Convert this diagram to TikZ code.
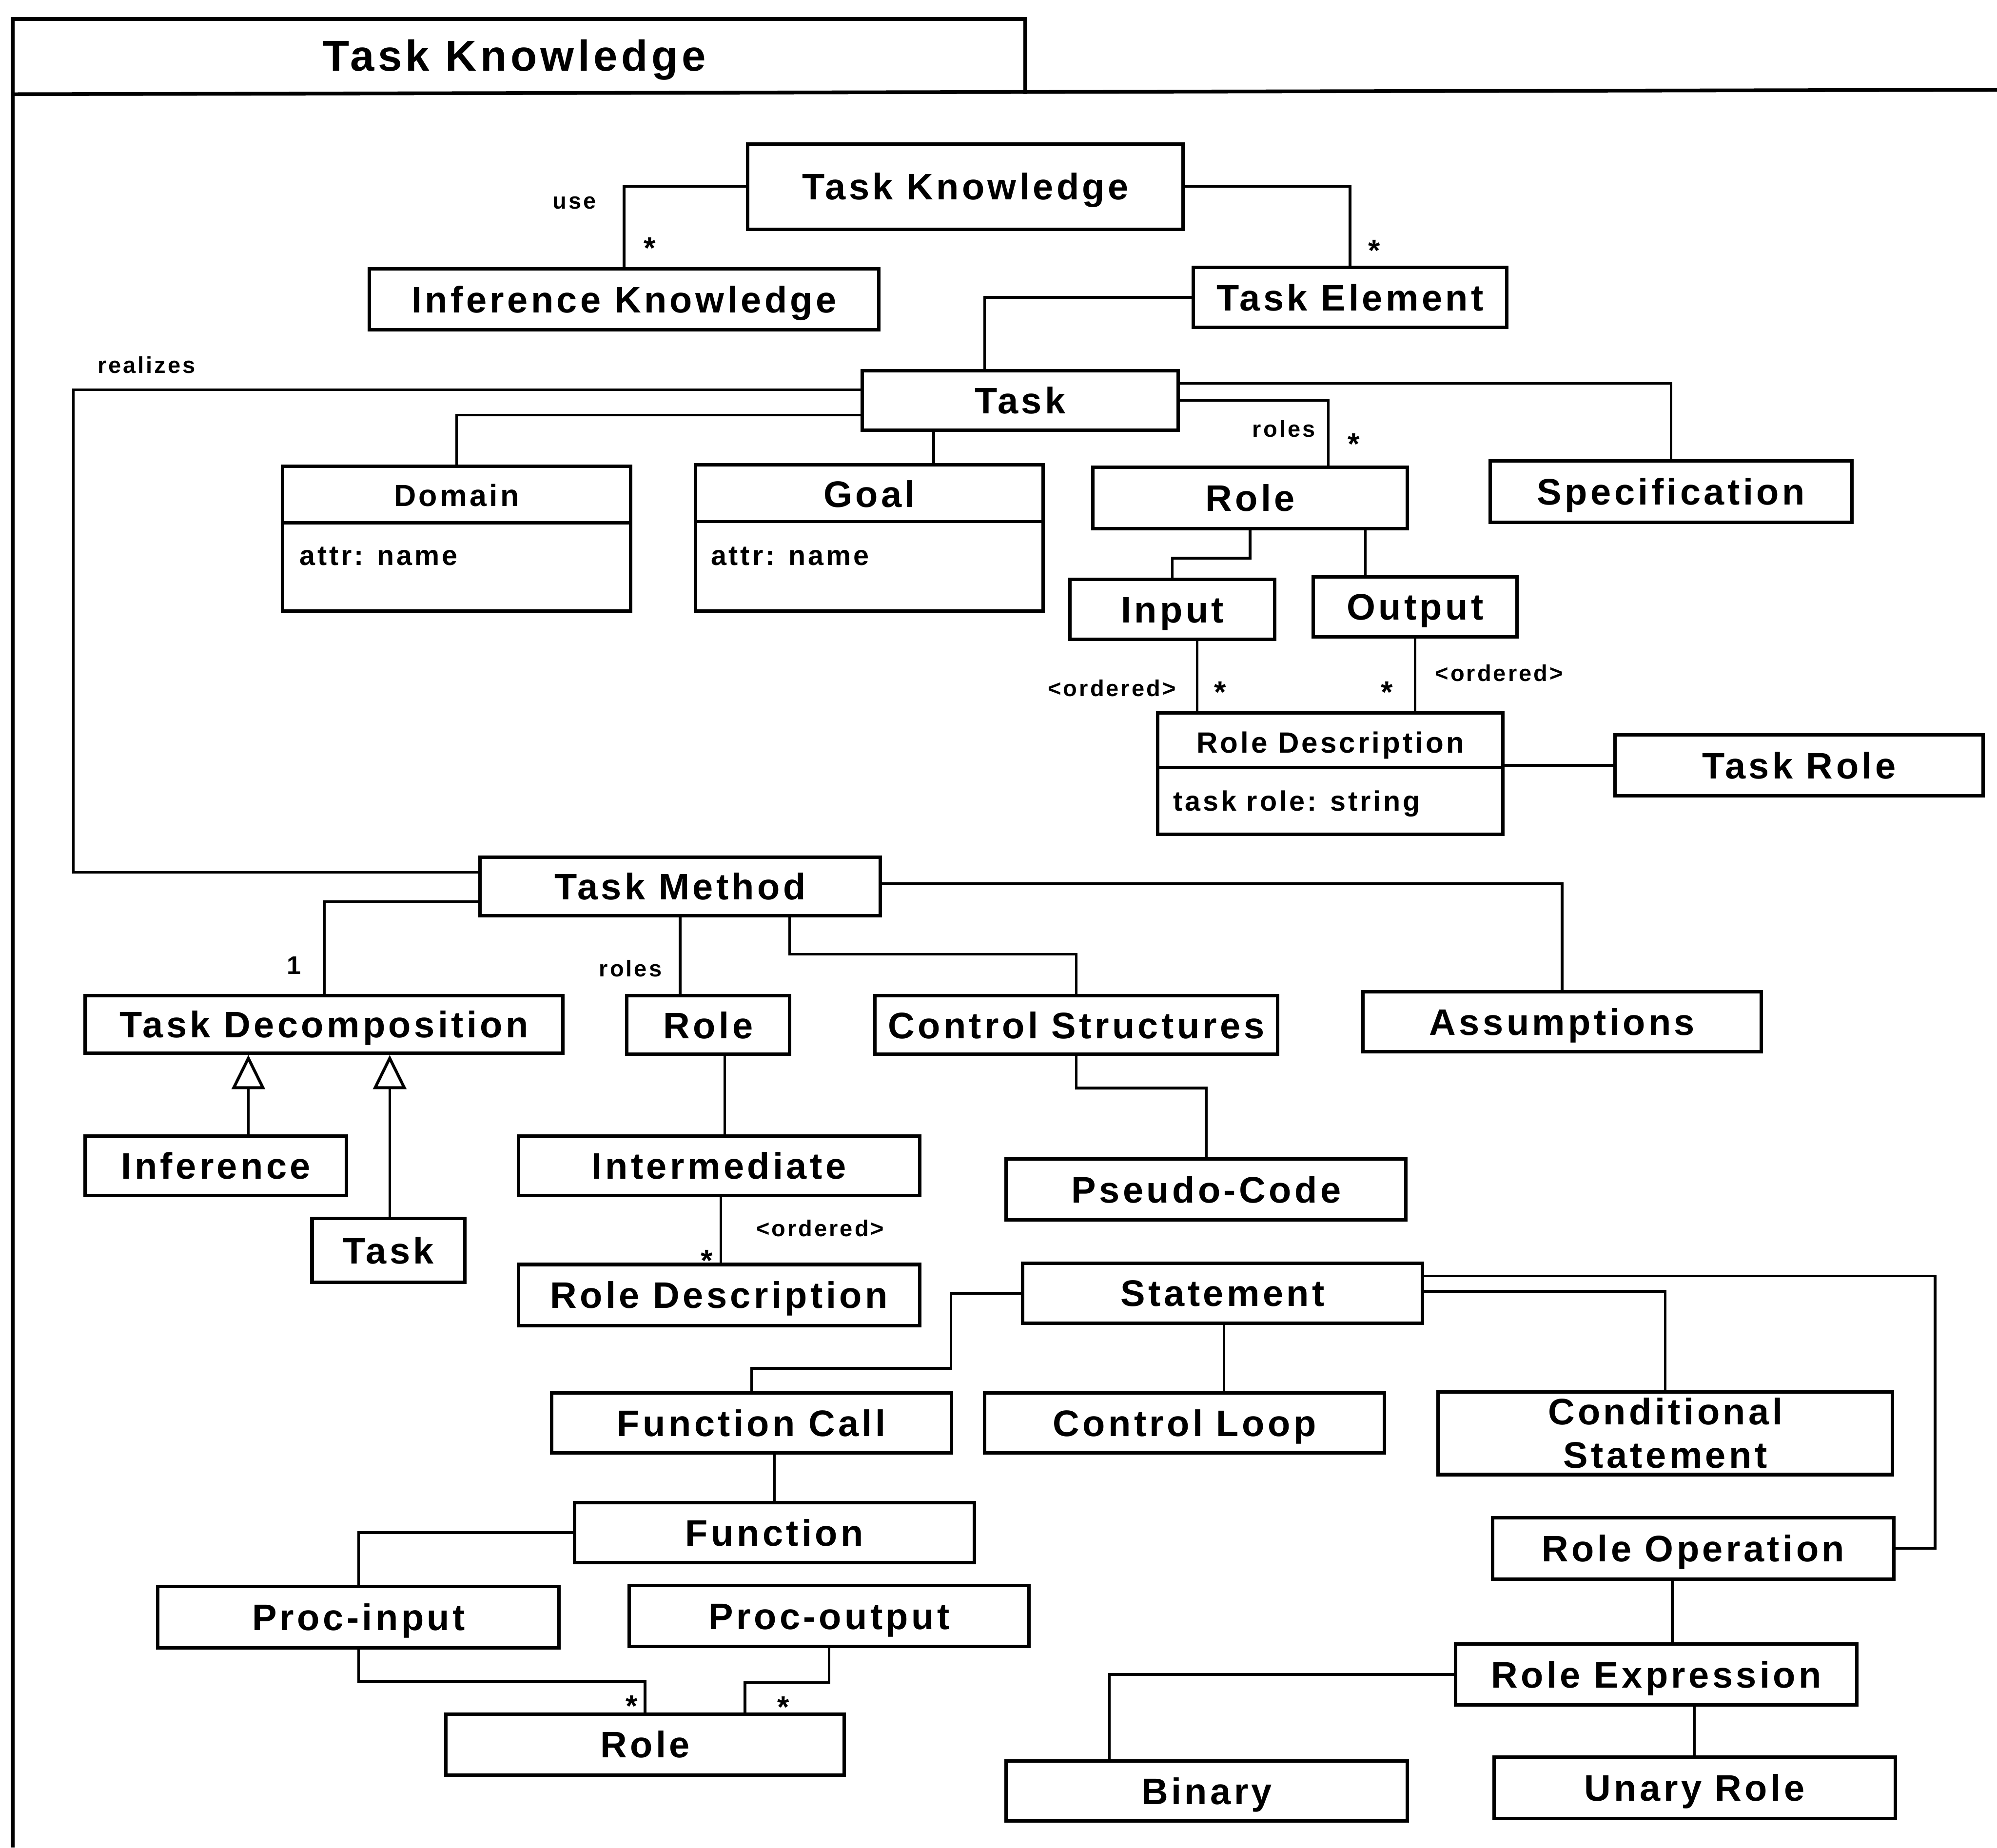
\documentclass[tikz,border=0pt]{standalone}
\usepackage{fontspec}
\setmainfont{Liberation Sans}
\newfontfamily\umlfont{Liberation Sans}[LetterSpace=8.5]
\newcommand\umlsize[1]{\umlfont\bfseries\fontsize{#1}{#1}\selectfont}
\usetikzlibrary{arrows.meta}

\begin{document}
\begin{tikzpicture}[x=1pt,y=-1pt,
  frame/.style={line width=2.9pt},
  box/.style={draw, line width=2.7pt, inner sep=0pt, font=\umlsize{29},
    text height=20.8pt, text depth=0pt},
  boxml/.style={draw, line width=2.7pt, inner sep=0pt, align=center,
    font=\umlfont\bfseries\fontsize{29}{34}\selectfont},
  cname/.style={inner sep=0pt, font=\umlsize{#1}, text height=0.716*#1pt, text depth=0pt},
  attr/.style={inner sep=0pt, anchor=west, font=\umlsize{22}, text height=15.8pt, text depth=0pt},
  divider/.style={line width=2.5pt},
  conn/.style={line width=2.1pt},
  gen/.style={conn, -{Triangle[open, length=27pt, width=26pt, line width=2.3pt]}},
  lbl/.style={inner sep=0pt, anchor=base, font=\umlsize{18}},
  star/.style={inner sep=0pt, anchor=base, font=\umlsize{24}},
  mult/.style={inner sep=0pt, anchor=base, font=\umlsize{20}}]

\useasboundingbox (0,0) rectangle (1568,1451);

% package frame with its name tab
\draw[frame] (10,1451) -- (10,15) -- (805,15) -- (805,74);
\draw[frame] (10,74) -- (1568,70.5);
\node[cname=34] (pkg-title) at (404,43.5) {Task Knowledge};

% classes
\node[box, minimum width=342pt, minimum height=67pt] (tk) at (758,146.5) {Task Knowledge};
\node[box, minimum width=400pt, minimum height=48pt] (ik) at (490,235) {Inference Knowledge};
\node[box, minimum width=246pt, minimum height=47pt] (te) at (1060,233.5) {Task Element};
\node[box, minimum width=248pt, minimum height=47pt] (task) at (801,314.5) {Task};

\node[box, minimum width=273pt, minimum height=114pt] (dom) at (358.5,423) {};
\draw[divider] ([yshift=-46pt]dom.north west) -- ([yshift=-46pt]dom.north east);
\node[cname=24] (dom-name) at (358.5,389) {Domain};
\node[attr] (dom-attr) at (235,436) {attr: name};

\node[box, minimum width=273pt, minimum height=115pt] (goal) at (682.5,422.5) {};
\draw[divider] ([yshift=-46pt]goal.north west) -- ([yshift=-46pt]goal.north east);
\node[cname=29] (goal-name) at (682.5,388) {Goal};
\node[attr] (goal-attr) at (558,436) {attr: name};

\node[box, minimum width=247pt, minimum height=48pt] (role1) at (981.5,391) {Role};
\node[box, minimum width=284pt, minimum height=48pt] (spec) at (1312,386) {Specification};
\node[box, minimum width=161pt, minimum height=47pt] (inp) at (920.5,478.5) {Input};
\node[box, minimum width=160pt, minimum height=47pt] (outp) at (1111,476.5) {Output};

\node[box, minimum width=271pt, minimum height=95pt] (rd1) at (1044.5,607.5) {};
\draw[divider] ([yshift=-44pt]rd1.north west) -- ([yshift=-44pt]rd1.north east);
\node[cname=23] (rd1-name) at (1044.5,583) {Role Description};
\node[attr] (rd1-attr) at (921,629) {task role: string};

\node[box, minimum width=289pt, minimum height=48pt] (trole) at (1412.5,601) {Task Role};
\node[box, minimum width=314pt, minimum height=46pt] (tm) at (534,696) {Task Method};
\node[box, minimum width=375pt, minimum height=45pt] (td) at (254.5,804.5) {Task Decomposition};
\node[box, minimum width=128pt, minimum height=46pt] (role2) at (556,805) {Role};
\node[box, minimum width=316pt, minimum height=46pt] (cs) at (845,805) {Control Structures};
\node[box, minimum width=313pt, minimum height=47pt] (assm) at (1226.5,802.5) {Assumptions};
\node[box, minimum width=205pt, minimum height=47pt] (infer) at (169.5,915.5) {Inference};
\node[box, minimum width=120pt, minimum height=50pt] (task2) at (305,982) {Task};
\node[box, minimum width=315pt, minimum height=47pt] (inter) at (564.5,915.5) {Intermediate};
\node[box, minimum width=314pt, minimum height=48pt] (pseudo) at (947,934) {Pseudo-Code};
\node[box, minimum width=315pt, minimum height=48pt] (rd2) at (564.5,1017) {Role Description};
\node[box, minimum width=314pt, minimum height=47pt] (stmt) at (960,1015.5) {Statement};
\node[box, minimum width=314pt, minimum height=47pt] (fcall) at (590,1117.5) {Function Call};
\node[box, minimum width=314pt, minimum height=47pt] (cloop) at (930,1117.5) {Control Loop};
\node[boxml, minimum width=357pt, minimum height=65pt] (cond) at (1307.5,1125.5) {Conditional\\Statement};
\node[box, minimum width=314pt, minimum height=47pt] (func) at (608,1203.5) {Function};
\node[box, minimum width=315pt, minimum height=48pt] (rop) at (1329.5,1216) {Role Operation};
\node[box, minimum width=315pt, minimum height=48pt] (pin) at (281.5,1270) {Proc-input};
\node[box, minimum width=314pt, minimum height=48pt] (pout) at (651,1269) {Proc-output};
\node[box, minimum width=313pt, minimum height=48pt] (role3) at (506.5,1370) {Role};
\node[box, minimum width=315pt, minimum height=48pt] (rexp) at (1300.5,1315) {Role Expression};
\node[box, minimum width=315pt, minimum height=47pt] (bin) at (947.5,1406.5) {Binary};
\node[box, minimum width=315pt, minimum height=48pt] (unary) at (1330.5,1404) {Unary Role};

% associations
\draw[conn] (tk.west) -| (ik.north);
\draw[conn] (tk.east) -| (te.north);
\draw[conn] (te.west) -| ([xshift=-28pt]task.north);
\draw[conn] ([yshift=8.5pt]task.west) -- ++(-618,0) |- ([yshift=11pt]tm.west);
\draw[conn] ([yshift=-11.5pt]task.west) -| (dom.north);
\draw[conn] ([xshift=-68pt]task.south) -- ([xshift=-68pt]task.south |- goal.north);
\draw[conn] (task.east) -| ([xshift=61.5pt]role1.north);
\draw[conn] ([yshift=13.5pt]task.east) -| (spec.north);
\draw[conn] (role1.south) -- ++(0,22) -| (inp.north);
\draw[conn] ([xshift=90.5pt]role1.south) -- ([xshift=90.5pt]role1.south |- outp.north);
\draw[conn] ([xshift=19.5pt]inp.south) -- ([xshift=19.5pt]inp.south |- rd1.north);
\draw[conn] (outp.south) -- (outp.south |- rd1.north);
\draw[conn] (trole.west) -- (trole.west -| rd1.east);
\draw[conn] ([yshift=2pt]tm.east) -| (assm.north);
\draw[conn] ([xshift=86pt]tm.south) -- ++(0,29) -| (cs.north);
\draw[conn] (tm.south) -- (tm.south |- role2.north);
\draw[conn] ([yshift=-12pt]tm.west) -| (td.north);
\draw[conn] ([xshift=13pt]role2.south) -- ([xshift=13pt]role2.south |- inter.north);
\draw[conn] (cs.south) -- ++(0,25) -| (pseudo.north);
\draw[conn] ([xshift=1.5pt]inter.south) -- ([xshift=1.5pt]inter.south |- rd2.north);
\draw[conn] (stmt.west) -| ++(-55,59) -| (fcall.north);
\draw[conn] ([xshift=1pt]stmt.south) -- ([xshift=1pt]stmt.south |- cloop.north);
\draw[conn] ([yshift=1.5pt]stmt.east) -| (cond.north);
\draw[conn] ([yshift=13.5pt]stmt.east) -- ++(401,0) |- (rop.east);
\draw[conn] ([xshift=18pt]fcall.south) -- ([xshift=18pt]fcall.south |- func.north);
\draw[conn] (func.west) -| (pin.north);
\draw[conn] (pin.south) -- ++(0,25) -| (role3.north);
\draw[conn] (pout.south) -- ++(0,27) -| ([xshift=78.5pt]role3.north);
\draw[conn] ([xshift=-16.5pt]rop.south) -- ([xshift=-16.5pt]rop.south |- rexp.north);
\draw[conn] (rexp.west) -| ([xshift=-76.5pt]bin.north);
\draw[conn] (unary.north) -- (unary.north |- rexp.south);

% generalisations
\draw[gen] ([xshift=25.5pt]infer.north) -- ([xshift=25.5pt]infer.north |- td.south);
\draw[gen] ([xshift=1pt]task2.north) -- ([xshift=1pt]task2.north |- td.south);

% role names, constraints and multiplicities
\node[lbl] (l-use) at (451,164) {use};
\node[star] (m-ik) at (510,203) {*};
\node[star] (m-te) at (1079,205) {*};
\node[lbl] (l-realizes) at (115,293) {realizes};
\node[lbl] (l-roles1) at (1008,343) {roles};
\node[star] (m-role1) at (1063,357) {*};
\node[lbl] (c-in) at (873,547) {<ordered>};
\node[star] (m-in) at (958,552) {*};
\node[star] (m-out) at (1089,552) {*};
\node[lbl] (c-out) at (1177,535) {<ordered>};
\node[mult] (m-td) at (231,765) {1};
\node[lbl] (l-roles2) at (495,767) {roles};
\node[star] (m-rd2) at (555,998) {*};
\node[lbl] (c-rd2) at (644,971) {<ordered>};
\node[star] (m-pin) at (496,1348) {*};
\node[star] (m-pout) at (615,1349) {*};
\end{tikzpicture}
\end{document}
